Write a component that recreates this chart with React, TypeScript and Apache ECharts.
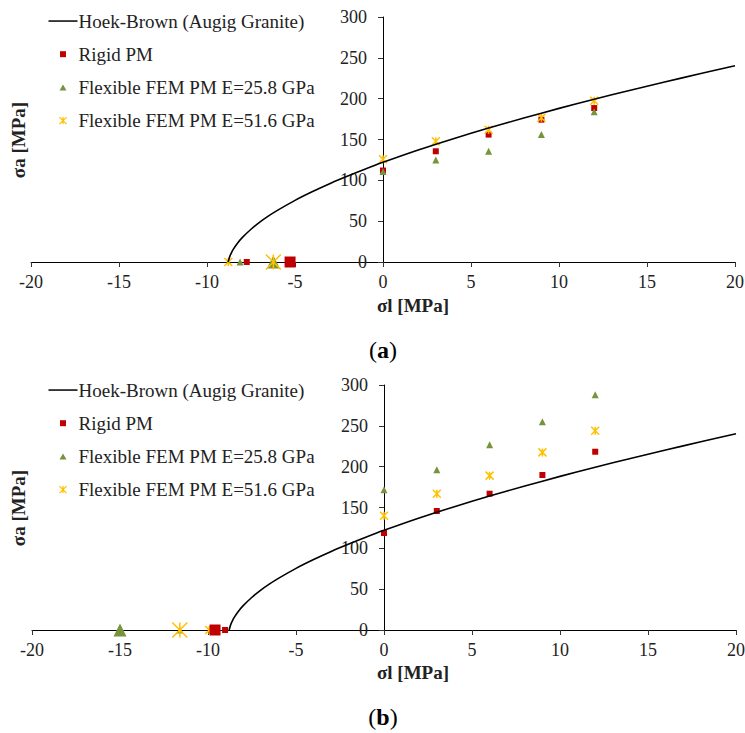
import React, { useEffect, useRef } from "react";
import * as echarts from "echarts";

// Hoek-Brown envelope
const hbSigmaL = [-8.8, -8.7, -8.6, -8.5, -8.3, -8, -7.5, -7, -6.5, -6, -5, -4, -3, -2, -1, 0, 2, 4, 6, 8, 10, 12, 14, 16, 18, 20];
const hbSigmaA = [0, 7.2, 11.9, 15.7, 22.1, 29.8, 40.1, 48.8, 56.4, 63.2, 75.5, 86.3, 96.2, 105.3, 113.9, 122, 137.1, 151.0, 164.0, 176.3, 188.1, 199.3, 210.0, 220.4, 230.5, 240.3];

// confinement values of the tests
const testSigmaL = [0, 3, 6, 9, 12];

// (a)
const rigidA = [112, 135.6, 156, 174.3, 188.5];
const fem258A = [110.8, 125, 135.6, 156, 184];
const fem516A = [125.8, 147.8, 162, 176.7, 197.5];
const tensileSmallA = { rigid: -7.74, fem258: -8.12, fem516: -8.79 };
const tensileLargeA = { rigid: -5.28, fem258: -6.23, fem516: -6.23 };

// (b)
const rigidB = [118.8, 145.7, 166.9, 189.8, 218.3];
const fem258B = [171.8, 196.3, 226.9, 255, 288];
const fem516B = [140, 166.9, 189, 217.5, 244];
const tensileSmallB = { rigid: -9.03, fem258: -11.6, fem516: -9.93 };
const tensileLargeB = { rigid: -9.6, fem258: -15, fem516: -11.6 };

const names = [
  "Hoek-Brown (Augig Granite)",
  "Rigid PM",
  "Flexible FEM PM E=25.8 GPa",
  "Flexible FEM PM E=51.6 GPa",
];
const panelLabels = ["a", "b"];
const xTitle = "σl [MPa]";
const yTitle = "σa [MPa]";

const RED = "#C00000";
const GREEN = "#77933C";
const YELLOW = "#FFC000";
const FONT = "Liberation Serif";
const STAR = "path://M0,0L10,10M10,0L0,10M5,0L5,10";
const ICON_LINE = "path://M0,0M29,7M0,2.8L29,2.8L29,4.3L0,4.3Z";
const ICON_RECT = "path://M0,0M29,7M11.5,0.5L17.5,0.5L17.5,6.5L11.5,6.5Z";
const ICON_TRI = "path://M0,0M29,7M14.5,0.5L18,6.5L11,6.5Z";
const ICON_STAR = "path://M0,0M29,7M11,0L18,7M18,0L11,7M14.5,0L14.5,7";

function App() {
  const ref = useRef<HTMLDivElement>(null);
  useEffect(() => {
    if (!ref.current) return;
    const chart = echarts.init(ref.current, null, { renderer: "svg" });

    const GRID_W = 704;
    const grids = [
      { left: 31, top: 17, width: GRID_W, height: 245, outerBoundsMode: "none", containLabel: false },
      { left: 32, top: 385, width: GRID_W, height: 245, outerBoundsMode: "none", containLabel: false },
    ];

    const mkX = (i: number) => ({
      type: "value",
      gridIndex: i,
      min: -20,
      max: 20,
      interval: 5,
      splitLine: { show: false },
      axisLine: { lineStyle: { color: "#000", width: 1 } },
      axisTick: { show: true, length: 5, lineStyle: { color: "#333" } },
      axisLabel: { fontFamily: FONT, fontSize: 18, color: "#222", margin: 11 },
    });
    // y axis sits at sigma_l = 0, i.e. halfway across the grid
    const mkY = (i: number) => ({
      type: "value",
      gridIndex: i,
      position: "left",
      offset: -GRID_W / 2,
      min: 0,
      max: 300,
      interval: 50,
      splitLine: { show: false },
      axisLine: { onZero: false, lineStyle: { color: "#000", width: 1 } },
      axisTick: { show: true, length: 5, lineStyle: { color: "#333" } },
      axisLabel: { fontFamily: FONT, fontSize: 18, color: "#222", margin: 16 },
    });

    const pts = (ys: number[], small: number) =>
      testSigmaL.map((x, k) => [x, ys[k]]).concat([[small, 0]]);

    const mkSeries = (i: number, r: number[], g: number[], y: number[], sm: any, lg: any) => [
      {
        name: names[0],
        type: "line",
        xAxisIndex: i,
        yAxisIndex: i,
        data: hbSigmaL.map((x, k) => [x, hbSigmaA[k]]),
        symbol: "none",
        showSymbol: false,
        smooth: 0.3,
        lineStyle: { color: "#000", width: 1.6 },
        itemStyle: { color: "#000" },
      },
      {
        name: names[1],
        type: "scatter",
        xAxisIndex: i,
        yAxisIndex: i,
        data: pts(r, sm.rigid),
        symbol: "rect",
        symbolSize: 6,
        itemStyle: { color: RED, opacity: 1 },
      },
      {
        name: names[2],
        type: "scatter",
        xAxisIndex: i,
        yAxisIndex: i,
        data: pts(g, sm.fem258),
        symbol: "triangle",
        symbolSize: 7,
        itemStyle: { color: GREEN, opacity: 1 },
      },
      {
        name: names[3],
        type: "scatter",
        xAxisIndex: i,
        yAxisIndex: i,
        data: pts(y, sm.fem516),
        symbol: STAR,
        symbolSize: 8,
        itemStyle: { color: "none", borderColor: YELLOW, borderWidth: 1.5, opacity: 1 },
      },
      {
        type: "scatter",
        xAxisIndex: i,
        yAxisIndex: i,
        data: [[lg.rigid, 0]],
        symbol: "rect",
        symbolSize: 11,
        itemStyle: { color: RED, opacity: 1 },
      },
      {
        type: "scatter",
        xAxisIndex: i,
        yAxisIndex: i,
        data: [[lg.fem258, 0]],
        symbol: "triangle",
        symbolSize: 13,
        itemStyle: { color: GREEN, opacity: 1 },
      },
      {
        type: "scatter",
        xAxisIndex: i,
        yAxisIndex: i,
        data: [[lg.fem516, 0]],
        symbol: STAR,
        symbolSize: 15,
        itemStyle: { color: "none", borderColor: YELLOW, borderWidth: 1.5, opacity: 1 },
      },
    ];

    const mkLegend = (top: number) => ({
      data: [
        { name: names[0], icon: ICON_LINE, itemStyle: { color: "#000", borderWidth: 0, opacity: 1 } },
        { name: names[1], icon: ICON_RECT, itemStyle: { color: RED, opacity: 1 } },
        { name: names[2], icon: ICON_TRI, itemStyle: { color: GREEN, opacity: 1 } },
        {
          name: names[3],
          icon: ICON_STAR,
          itemStyle: { color: "none", borderColor: YELLOW, borderWidth: 1.3, opacity: 1 },
        },
      ],
      orient: "vertical",
      left: 46,
      top,
      padding: 0,
      itemWidth: 29,
      itemHeight: 7,
      itemGap: 13.2,
      selectedMode: false,
      textStyle: { fontFamily: FONT, fontSize: 19, color: "#222", lineHeight: 20, padding: [0, 0, 0, -4] },
    });

    const mkPanel = (label: string, y: number) => ({
      type: "text",
      x: 383,
      y,
      style: {
        text: "{p|(}{b|" + label + "}{p|)}",
        align: "center",
        verticalAlign: "middle",
        rich: {
          p: { fontFamily: FONT, fontSize: 24, fill: "#000" },
          b: { fontFamily: FONT, fontSize: 24, fontWeight: "bold", fill: "#000" },
        },
      },
    });
    const mkXTitle = (y: number) => ({
      type: "text",
      x: 413,
      y,
      style: {
        text: xTitle,
        align: "center",
        verticalAlign: "middle",
        fontFamily: FONT,
        fontSize: 19,
        fontWeight: "bold",
        fill: "#222",
      },
    });
    const mkYTitle = (y: number) => ({
      type: "text",
      x: 18,
      y,
      rotation: Math.PI / 2,
      style: {
        text: yTitle,
        align: "center",
        verticalAlign: "middle",
        fontFamily: FONT,
        fontSize: 19,
        fontWeight: "bold",
        fill: "#222",
      },
    });

    chart.setOption({
      animation: false,
      grid: grids,
      xAxis: [mkX(0), mkX(1)],
      yAxis: [mkY(0), mkY(1)],
      legend: [mkLegend(11), mkLegend(380)],
      series: [
        ...mkSeries(0, rigidA, fem258A, fem516A, tensileSmallA, tensileLargeA),
        ...mkSeries(1, rigidB, fem258B, fem516B, tensileSmallB, tensileLargeB),
      ],
      graphic: [
        mkXTitle(305),
        mkXTitle(672),
        mkYTitle(140),
        mkYTitle(508),
        mkPanel(panelLabels[0], 350),
        mkPanel(panelLabels[1], 717),
      ],
    });
    return () => chart.dispose();
  }, []);
  return (
    <div
      ref={ref}
      style={{ position: "fixed", left: 0, top: 0, width: 745, height: 733, background: "#fff" }}
    />
  );
}

export default App;
